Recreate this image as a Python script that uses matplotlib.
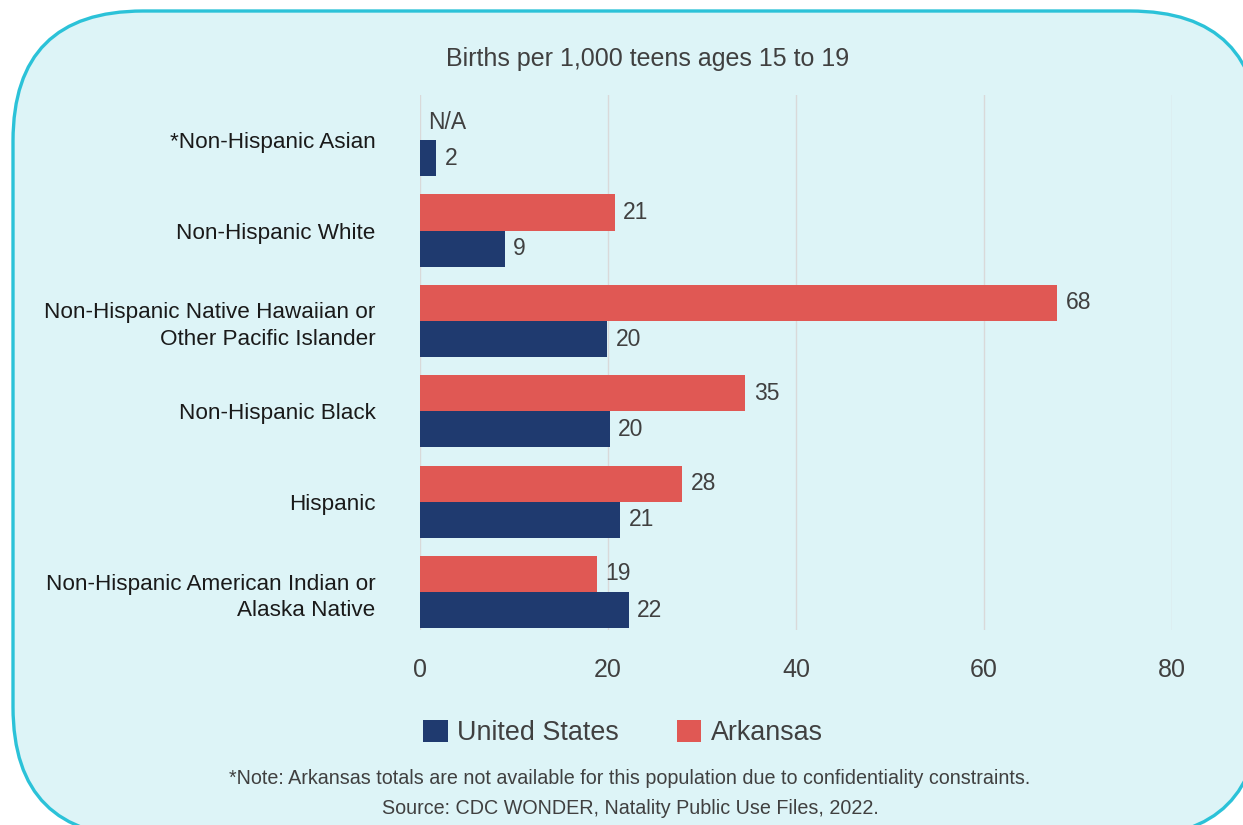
import matplotlib
matplotlib.use('Agg')
import matplotlib.pyplot as plt
from matplotlib.patches import FancyBboxPatch, Patch

plt.rcParams['font.family'] = ['Liberation Sans', 'DejaVu Sans']

categories = [
    'Non-Hispanic American Indian or\nAlaska Native',
    'Hispanic',
    'Non-Hispanic Black',
    'Non-Hispanic Native Hawaiian or\nOther Pacific Islander',
    'Non-Hispanic White',
    '*Non-Hispanic Asian',
]
us_values = [22.2, 21.3, 20.2, 19.9, 9.0, 1.7]
us_labels = ['22', '21', '20', '20', '9', '2']
ar_values = [18.8, 27.9, 34.6, 67.8, 20.7, None]
ar_labels = ['19', '28', '35', '68', '21', 'N/A']

US_COLOR = '#1f3a6f'
AR_COLOR = '#e05854'
BG = '#ddf4f7'
BORDER = '#2bc2d8'
TXT = '#404040'

W, H = 1243, 825
fig = plt.figure(figsize=(W / 100, H / 100), dpi=100)
fig.patch.set_facecolor('white')

# rounded panel behind everything (pixel coords, y up); runs off the right and bottom edges
bg = fig.add_axes([0, 0, 1, 1])
bg.set_xlim(0, W)
bg.set_ylim(0, H)
bg.axis('off')
panel = FancyBboxPatch((13, -12), 1247, 826, boxstyle='round,pad=0,rounding_size=130',
                       facecolor=BG, edgecolor=BORDER, linewidth=2.4)
bg.add_patch(panel)

ax = fig.add_axes([420 / W, 1 - 630 / H, (1172 - 420) / W, (630 - 95) / H])
ax.set_facecolor('none')

y = list(range(len(categories)))
h = 0.4
ax.barh([v + h / 2 for v in y], [a if a is not None else 0 for a in ar_values],
        height=h, color=AR_COLOR, zorder=2)
ax.barh([v - h / 2 for v in y], us_values, height=h, color=US_COLOR, zorder=2)

for i in y:
    ax.text(us_values[i] + 0.9, i - h / 2, us_labels[i], va='center', ha='left',
            fontsize=16.5, color=TXT)
    ar = ar_values[i] if ar_values[i] is not None else 0
    ax.text(ar + 0.9, i + h / 2, ar_labels[i], va='center', ha='left',
            fontsize=16.5, color=TXT)

ax.set_xlim(0, 80)
ax.set_ylim(-0.42, 5.5)
ax.set_xticks([0, 20, 40, 60, 80])
ax.set_yticks(y)
ax.set_yticklabels(categories, fontsize=16.2, color='#1a1a1a', linespacing=1.35)
ax.tick_params(axis='x', length=0, labelsize=18, labelcolor=TXT, pad=20)
ax.tick_params(axis='y', length=0, pad=32)
for lbl in ax.get_yticklabels():
    lbl.set_horizontalalignment('right')
ax.grid(axis='x', color='#d9d9d9', linewidth=1, zorder=0)
ax.set_axisbelow(True)
for s in ax.spines.values():
    s.set_visible(False)

fig.text(648 / W, 1 - 59 / H, 'Births per 1,000 teens ages 15 to 19', ha='center', va='center',
         fontsize=18, color=TXT)

handles = [Patch(facecolor=US_COLOR, label='United States'),
           Patch(facecolor=AR_COLOR, label='Arkansas')]
fig.legend(handles=handles, loc='center', bbox_to_anchor=(623 / W, 1 - 733 / H), ncol=2,
           frameon=False, fontsize=19.4, handlelength=0.9, handleheight=0.9,
           handletextpad=0.35, columnspacing=2.15, labelcolor=TXT)

fig.text(630 / W, 1 - 778 / H,
         '*Note: Arkansas totals are not available for this population due to confidentiality constraints.',
         ha='center', va='center', fontsize=14.2, color=TXT)
fig.text(630 / W, 1 - 808 / H, 'Source: CDC WONDER, Natality Public Use Files, 2022.',
         ha='center', va='center', fontsize=14.2, color=TXT)

fig.savefig('out.png', dpi=100)
